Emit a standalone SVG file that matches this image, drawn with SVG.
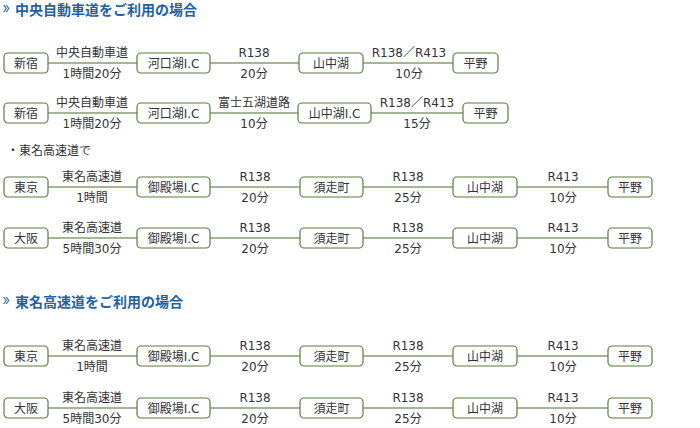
<svg xmlns="http://www.w3.org/2000/svg" width="700" height="428" viewBox="0 0 700 428">
<defs>
<style>
.n rect{fill:#fff;stroke:#5b7d3e;stroke-width:1.2}
.t{font-family:"DejaVu Sans","Noto Sans CJK JP",sans-serif;font-size:12px;fill:#333;text-anchor:middle}
.h{font-family:"Liberation Sans","Noto Sans CJK JP",sans-serif;font-size:14px;font-weight:bold;fill:#1f62a3}
.s{font-family:"DejaVu Sans","Noto Sans CJK JP",sans-serif;font-size:12px;fill:#333}
#conn line{stroke:#4a6e33;stroke-width:1.2}
.ic{fill:#3a7bbf}
</style>
<path id="chev" d="M0,0 L1.5,0 L4,3.5 L1.5,7 L0,7 L2.5,3.5 Z"/>
</defs>
<rect width="700" height="428" fill="#fff"/>
<!-- headings -->
<g class="ic"><use href="#chev" x="3" y="5"/><use href="#chev" x="5.5" y="5"/></g>
<text class="h" x="15" y="15">中央自動車道をご利用の場合</text>
<text class="s" x="7" y="155">・東名高速道で</text>
<g class="ic"><use href="#chev" x="3" y="297"/><use href="#chev" x="5.5" y="297"/></g>
<text class="h" x="15" y="307">東名高速道をご利用の場合</text>

<g id="conn">
<line x1="48" y1="63" x2="137" y2="63"/><line x1="210" y1="63" x2="299" y2="63"/><line x1="363" y1="63" x2="453" y2="63"/>
<line x1="48" y1="113" x2="137" y2="113"/><line x1="210" y1="113" x2="298" y2="113"/><line x1="371" y1="113" x2="463" y2="113"/>
<line x1="48" y1="187" x2="137" y2="187"/><line x1="210" y1="187" x2="300" y2="187"/><line x1="363" y1="187" x2="453" y2="187"/><line x1="517" y1="187" x2="608" y2="187"/>
<line x1="48" y1="238" x2="137" y2="238"/><line x1="210" y1="238" x2="300" y2="238"/><line x1="363" y1="238" x2="453" y2="238"/><line x1="517" y1="238" x2="608" y2="238"/>
<line x1="48" y1="356" x2="137" y2="356"/><line x1="210" y1="356" x2="300" y2="356"/><line x1="363" y1="356" x2="453" y2="356"/><line x1="517" y1="356" x2="608" y2="356"/>
<line x1="48" y1="408" x2="137" y2="408"/><line x1="210" y1="408" x2="300" y2="408"/><line x1="363" y1="408" x2="453" y2="408"/><line x1="517" y1="408" x2="608" y2="408"/>
</g>

<g id="labels">
<text class="t" x="92" y="57">中央自動車道</text><text class="t" x="92" y="78">1時間20分</text>
<text class="t" x="254" y="57">R138</text><text class="t" x="254" y="78">20分</text>
<text class="t" x="409" y="57">R138／R413</text><text class="t" x="409" y="78">10分</text>
<text class="t" x="92" y="107">中央自動車道</text><text class="t" x="92" y="128">1時間20分</text>
<text class="t" x="254" y="107">富士五湖道路</text><text class="t" x="254" y="128">10分</text>
<text class="t" x="417" y="107">R138／R413</text><text class="t" x="417" y="128">15分</text>

<text class="t" x="92" y="181">東名高速道</text><text class="t" x="92" y="202">1時間</text>
<text class="t" x="255" y="181">R138</text><text class="t" x="255" y="202">20分</text>
<text class="t" x="408" y="181">R138</text><text class="t" x="408" y="202">25分</text>
<text class="t" x="563" y="181">R413</text><text class="t" x="563" y="202">10分</text>
<text class="t" x="92" y="232">東名高速道</text><text class="t" x="92" y="253">5時間30分</text>
<text class="t" x="255" y="232">R138</text><text class="t" x="255" y="253">20分</text>
<text class="t" x="408" y="232">R138</text><text class="t" x="408" y="253">25分</text>
<text class="t" x="563" y="232">R413</text><text class="t" x="563" y="253">10分</text>

<text class="t" x="92" y="350">東名高速道</text><text class="t" x="92" y="371">1時間</text>
<text class="t" x="255" y="350">R138</text><text class="t" x="255" y="371">20分</text>
<text class="t" x="408" y="350">R138</text><text class="t" x="408" y="371">25分</text>
<text class="t" x="563" y="350">R413</text><text class="t" x="563" y="371">10分</text>
<text class="t" x="92" y="402">東名高速道</text><text class="t" x="92" y="423">5時間30分</text>
<text class="t" x="255" y="402">R138</text><text class="t" x="255" y="423">20分</text>
<text class="t" x="408" y="402">R138</text><text class="t" x="408" y="423">25分</text>
<text class="t" x="563" y="402">R413</text><text class="t" x="563" y="423">10分</text>
</g>

<!-- row 1 -->
<g id="r1-shinjuku" class="n"><rect x="4" y="53" width="44" height="20" rx="4"/><text class="t" x="26" y="68">新宿</text></g>
<g id="r1-kawaguchiko" class="n"><rect x="137" y="53" width="73" height="20" rx="4"/><text class="t" x="173.5" y="68">河口湖I.C</text></g>
<g id="r1-yamanakako" class="n"><rect x="299" y="53" width="64" height="20" rx="4"/><text class="t" x="331" y="68">山中湖</text></g>
<g id="r1-hirano" class="n"><rect x="453" y="53" width="45" height="20" rx="4"/><text class="t" x="475.5" y="68">平野</text></g>
<!-- row 2 -->
<g id="r2-shinjuku" class="n"><rect x="4" y="103" width="44" height="20" rx="4"/><text class="t" x="26" y="118">新宿</text></g>
<g id="r2-kawaguchiko" class="n"><rect x="137" y="103" width="73" height="20" rx="4"/><text class="t" x="173.5" y="118">河口湖I.C</text></g>
<g id="r2-yamanakako-ic" class="n"><rect x="298" y="103" width="73" height="20" rx="4"/><text class="t" x="334.5" y="118">山中湖I.C</text></g>
<g id="r2-hirano" class="n"><rect x="463" y="103" width="45" height="20" rx="4"/><text class="t" x="485.5" y="118">平野</text></g>
<!-- row 3 -->
<g id="r3-tokyo" class="n"><rect x="4" y="177" width="44" height="20" rx="4"/><text class="t" x="26" y="192">東京</text></g>
<g id="r3-gotemba" class="n"><rect x="137" y="177" width="73" height="20" rx="4"/><text class="t" x="173.5" y="192">御殿場I.C</text></g>
<g id="r3-subashiri" class="n"><rect x="300" y="177" width="63" height="20" rx="4"/><text class="t" x="331.5" y="192">須走町</text></g>
<g id="r3-yamanakako" class="n"><rect x="453" y="177" width="64" height="20" rx="4"/><text class="t" x="485" y="192">山中湖</text></g>
<g id="r3-hirano" class="n"><rect x="608" y="177" width="44" height="20" rx="4"/><text class="t" x="630" y="192">平野</text></g>
<!-- row 4 -->
<g id="r4-osaka" class="n"><rect x="4" y="228" width="44" height="20" rx="4"/><text class="t" x="26" y="243">大阪</text></g>
<g id="r4-gotemba" class="n"><rect x="137" y="228" width="73" height="20" rx="4"/><text class="t" x="173.5" y="243">御殿場I.C</text></g>
<g id="r4-subashiri" class="n"><rect x="300" y="228" width="63" height="20" rx="4"/><text class="t" x="331.5" y="243">須走町</text></g>
<g id="r4-yamanakako" class="n"><rect x="453" y="228" width="64" height="20" rx="4"/><text class="t" x="485" y="243">山中湖</text></g>
<g id="r4-hirano" class="n"><rect x="608" y="228" width="44" height="20" rx="4"/><text class="t" x="630" y="243">平野</text></g>
<!-- row 5 -->
<g id="r5-tokyo" class="n"><rect x="4" y="346" width="44" height="20" rx="4"/><text class="t" x="26" y="361">東京</text></g>
<g id="r5-gotemba" class="n"><rect x="137" y="346" width="73" height="20" rx="4"/><text class="t" x="173.5" y="361">御殿場I.C</text></g>
<g id="r5-subashiri" class="n"><rect x="300" y="346" width="63" height="20" rx="4"/><text class="t" x="331.5" y="361">須走町</text></g>
<g id="r5-yamanakako" class="n"><rect x="453" y="346" width="64" height="20" rx="4"/><text class="t" x="485" y="361">山中湖</text></g>
<g id="r5-hirano" class="n"><rect x="608" y="346" width="44" height="20" rx="4"/><text class="t" x="630" y="361">平野</text></g>
<!-- row 6 -->
<g id="r6-osaka" class="n"><rect x="4" y="398" width="44" height="20" rx="4"/><text class="t" x="26" y="413">大阪</text></g>
<g id="r6-gotemba" class="n"><rect x="137" y="398" width="73" height="20" rx="4"/><text class="t" x="173.5" y="413">御殿場I.C</text></g>
<g id="r6-subashiri" class="n"><rect x="300" y="398" width="63" height="20" rx="4"/><text class="t" x="331.5" y="413">須走町</text></g>
<g id="r6-yamanakako" class="n"><rect x="453" y="398" width="64" height="20" rx="4"/><text class="t" x="485" y="413">山中湖</text></g>
<g id="r6-hirano" class="n"><rect x="608" y="398" width="44" height="20" rx="4"/><text class="t" x="630" y="413">平野</text></g>
</svg>
